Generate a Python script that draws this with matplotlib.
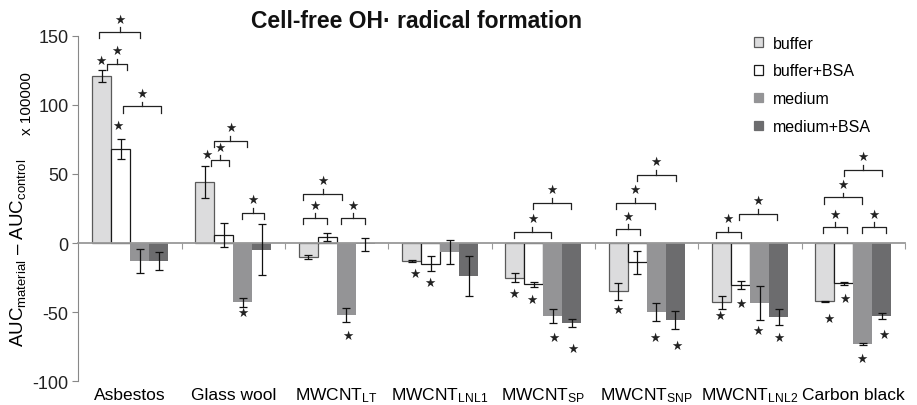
import matplotlib
matplotlib.use('Agg')
import matplotlib.pyplot as plt
from matplotlib.patches import Patch
import numpy as np

plt.rcParams['font.family'] = ['Liberation Sans', 'DejaVu Sans']
plt.rcParams['mathtext.fontset'] = 'custom'
plt.rcParams['mathtext.rm'] = 'Liberation Sans'
plt.rcParams['mathtext.it'] = 'Liberation Sans:italic'
plt.rcParams['mathtext.bf'] = 'Liberation Sans:bold'
plt.rcParams['axes.unicode_minus'] = False

categories = ['Asbestos', 'Glass wool', r'MWCNT$_{\mathrm{LT}}$', r'MWCNT$_{\mathrm{LNL1}}$',
              r'MWCNT$_{\mathrm{SP}}$', r'MWCNT$_{\mathrm{SNP}}$', r'MWCNT$_{\mathrm{LNL2}}$', 'Carbon black']
series = ['buffer', 'buffer+BSA', 'medium', 'medium+BSA']

buffer_vals = [121, 44, -10, -13, -25, -35, -43, -42.3]
buffer_err = [4.5, 11.5, 1.5, 1, 3.6, 6, 4.8, 0.5]
buffer_bsa_vals = [68, 6, 4.5, -15, -30, -14, -30.5, -29.2]
buffer_bsa_err = [7.5, 8.7, 3, 5.5, 1.8, 8.5, 3, 1]
medium_vals = [-13, -43, -52, -6.5, -53, -50, -43.5, -73.2]
medium_err = [8.5, 3, 5, 8.7, 5, 6.3, 12, 0.5]
medium_bsa_vals = [-13, -5, -1, -23.7, -58, -55.8, -53.6, -53]
medium_bsa_err = [6.5, 18.5, 4.5, 14.5, 2.7, 6.8, 5.6, 2]

# significance brackets: (category, left bar pos, right bar pos, height)
brackets = [
    (0, -0.13, 2.03, 152.7), (0, 0.3, 1.35, 129.7), (0, 1.15, 3.13, 99),
    (1, 0.46, 2.22, 74), (1, 0.33, 1.25, 60), (1, 1.96, 3.1, 22),
    (2, -0.25, 1.76, 35.5), (2, -0.27, 0.97, 18), (2, 1.71, 2.97, 18),
    (4, -0.04, 1.88, 8.2), (4, 0.96, 2.96, 29),
    (5, -0.14, 1.14, 10), (5, -0.14, 1.91, 29), (5, 0.97, 3.02, 49.3),
    (6, -0.31, 1.01, 8.2), (6, 0.92, 2.93, 21),
    (7, -0.09, 1.14, 11.4), (7, 1.97, 3.2, 11.4), (7, -0.05, 1.97, 33), (7, 1.0, 3.01, 52.9),
]
# single stars next to bars: (category, bar pos, value)
stars = [
    (0, -0.04, 132), (0, 0.85, 85.5), (1, 0.08, 64.5),
    (1, 1.99, -50.5), (2, 2.06, -66.7), (3, 0.18, -22), (3, 0.94, -28.5),
    (4, -0.04, -36.5), (4, 0.9, -40.6), (4, 2.04, -68.4), (4, 3.03, -76.3),
    (5, 0.0, -48.3), (5, 1.9, -68.4), (5, 3.1, -74.4),
    (6, -0.1, -52.7), (6, 1.0, -43.5), (6, 1.9, -63.5), (6, 3.0, -68.4),
    (7, 0.2, -54.6), (7, 1.05, -39.9), (7, 1.95, -83.6), (7, 3.1, -66),
]

fills = ['#dcdcdd', '#ffffff', '#949496', '#6c6c6e']
edges = ['#5a5a5a', '#1a1a1a', 'none', 'none']

fig = plt.figure(figsize=(9.17, 4.06), dpi=100)
ax = fig.add_axes([0.0855, 0.059, 0.9015, 0.85])

x = np.arange(len(categories))
w = 0.184
vals = [buffer_vals, buffer_bsa_vals, medium_vals, medium_bsa_vals]
errs = [buffer_err, buffer_bsa_err, medium_err, medium_bsa_err]
for k in range(4):
    ax.bar(x + (k - 1.5) * w, vals[k], w, color=fills[k], edgecolor=edges[k],
           linewidth=0.9, zorder=2)
    ax.errorbar(x + (k - 1.5) * w, vals[k], yerr=errs[k], fmt='none', ecolor='#111111',
                elinewidth=0.9, capsize=3, capthick=0.9, zorder=3)

def bx(cat, p):
    return cat + (p - 1.5) * w

for cat, l, r, h in brackets:
    x0, x1 = bx(cat, l), bx(cat, r)
    ax.plot([x0, x0, x1, x1], [h - 4.5, h, h, h - 4.5], color='#222222', lw=0.9,
            zorder=3, clip_on=False)
    ax.plot([(x0 + x1) / 2] * 2, [h, h + 3.5], color='#222222', lw=0.9, zorder=3,
            clip_on=False)
    ax.text((x0 + x1) / 2, h + 9.5, '★', ha='center', va='center', fontsize=9,
            family='DejaVu Sans', color='#222222', clip_on=False)

for cat, p, v in stars:
    ax.text(bx(cat, p), v, '★', ha='center', va='center', fontsize=9,
            family='DejaVu Sans', color='#222222')

ax.set_xlim(-0.5, 7.5)
ax.set_ylim(-100, 150)
ax.set_yticks([-100, -50, 0, 50, 100, 150])
ax.tick_params(axis='y', direction='out', length=4, color='#888888', labelsize=13,
               labelcolor='#222222', pad=3)
ax.spines['top'].set_visible(False)
ax.spines['right'].set_visible(False)
ax.spines['left'].set_color('#888888')
ax.spines['bottom'].set_position(('data', 0))
ax.spines['bottom'].set_color('#999999')
ax.spines['bottom'].set_linewidth(1.3)
ax.set_xticks(np.arange(0.5, 8, 1))
ax.set_xticklabels([])
ax.tick_params(axis='x', direction='out', length=4, color='#999999')

for i, c in enumerate(categories):
    ax.text(i, -0.038, c, transform=ax.get_xaxis_transform(), ha='center', va='center',
            fontsize=12.5)

fig.text(0.02, 0.377, r'AUC$_{\mathrm{material}}$ – AUC$_{\mathrm{control}}$', rotation=90,
         ha='center', va='center', fontsize=13.5)
fig.text(0.029, 0.745, 'x 100000', rotation=90, ha='center', va='center', fontsize=11)

fig.text(0.454, 0.948, 'Cell-free OH· radical formation', ha='center', va='center',
         fontsize=16.5, fontweight='bold', color='#111111')

handles = [Patch(facecolor=fills[k], edgecolor=edges[k] if edges[k] != 'none' else fills[k],
                 linewidth=0.9) for k in range(4)]
ax.legend(handles, series, loc='upper left', bbox_to_anchor=(0.807, 0.945),
          bbox_transform=fig.transFigure, frameon=False, fontsize=11.5,
          handlelength=0.55, handleheight=0.55, handletextpad=0.6, labelspacing=0.8)

fig.savefig('out.png', dpi=100)
